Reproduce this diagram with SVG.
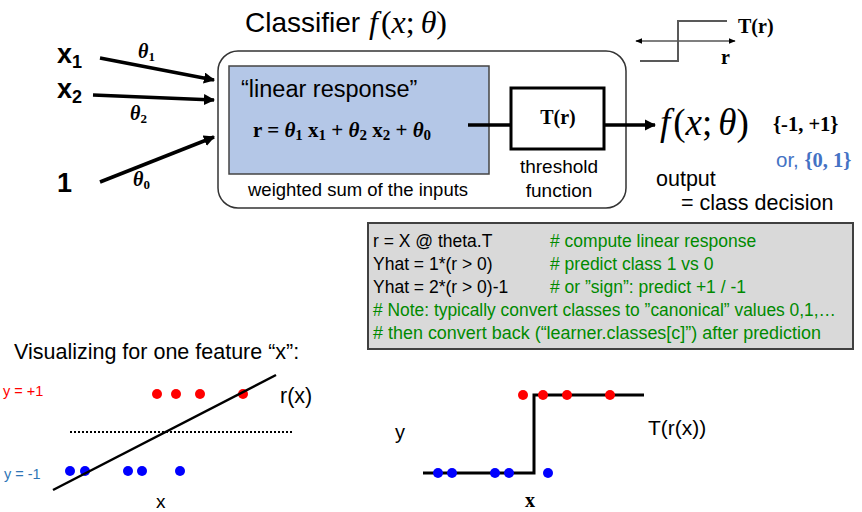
<svg xmlns="http://www.w3.org/2000/svg" width="862" height="512" viewBox="0 0 862 512">
<style>
.sans{font-family:"Liberation Sans",Arial,sans-serif;}
.serif{font-family:"Liberation Serif","Times New Roman",serif;}
.bs{font-family:"Liberation Serif","Times New Roman",serif;font-weight:bold;}
.bi{font-family:"Liberation Serif","Times New Roman",serif;font-weight:bold;font-style:italic;}
.up{font-style:normal;}
.code{font-family:"Liberation Sans",Arial,sans-serif;font-size:17.5px;fill:#000;}
.cm{fill:#008a00;}
.arr{stroke:#000;stroke-width:3.5;fill:none;}
.red{fill:#ff0000;}
.blue{fill:#0000ff;}
</style>
<defs>
<marker id="ah" viewBox="0 0 10 10" refX="9" refY="5" markerWidth="3.2" markerHeight="3.2" orient="auto" markerUnits="strokeWidth">
<path d="M0,0 L10,5 L0,10 z" fill="#000"/>
</marker>
<marker id="ahs" viewBox="0 0 10 10" refX="9" refY="5" markerWidth="6" markerHeight="6" orient="auto-start-reverse" markerUnits="strokeWidth">
<path d="M0,1 L10,5 L0,9 z" fill="#000"/>
</marker>
</defs>
<rect width="862" height="512" fill="#fff"/>

<!-- Title -->
<g id="title">
<text x="245" y="32" class="sans" font-size="28">Classifier</text>
<text x="369" y="33" class="serif" font-size="32"><tspan font-style="italic">f</tspan><tspan dx="3">(</tspan><tspan font-style="italic">x</tspan><tspan>;</tspan><tspan dx="6" font-style="italic">θ</tspan><tspan>)</tspan></text>
</g>

<!-- Inputs -->
<g id="input-x1">
<text x="57" y="63" class="sans" font-weight="bold" font-size="27">x<tspan font-size="18" dy="5">1</tspan></text>
</g>
<g id="input-x2">
<text x="57" y="98" class="sans" font-weight="bold" font-size="27">x<tspan font-size="18" dy="5">2</tspan></text>
</g>
<g id="input-1">
<text x="57" y="192" class="sans" font-weight="bold" font-size="27">1</text>
</g>

<!-- Classifier box -->
<g id="classifier">
<rect x="218" y="51" width="408" height="157" rx="20" ry="20" fill="#fff" stroke="#333" stroke-width="1.5"/>
</g>
<g id="linear-response">
<rect x="229" y="66" width="260" height="108" fill="#b4c7e7" stroke="#444" stroke-width="1.5"/>
<text x="241" y="97" class="sans" font-size="23.5">“linear response”</text>
<text x="253" y="137" class="bs" font-size="21">r = <tspan class="bi">θ</tspan><tspan font-size="15" dy="3">1</tspan><tspan dy="-3"> x</tspan><tspan font-size="15" dy="3">1</tspan><tspan dy="-3"> + </tspan><tspan class="bi">θ</tspan><tspan font-size="15" dy="3">2</tspan><tspan dy="-3"> x</tspan><tspan font-size="15" dy="3">2</tspan><tspan dy="-3"> + </tspan><tspan class="bi">θ</tspan><tspan font-size="15" dy="3">0</tspan></text>
<text x="248" y="196" class="sans" font-size="18.5">weighted sum of the inputs</text>
</g>
<g id="threshold">
<rect x="511" y="88" width="93" height="61" fill="#fff" stroke="#000" stroke-width="3"/>
<text x="558" y="124" class="bs" font-size="20" text-anchor="middle">T(r)</text>
<text x="559" y="173" class="sans" font-size="19" text-anchor="middle">threshold</text>
<text x="559" y="197" class="sans" font-size="19" text-anchor="middle">function</text>
</g>

<!-- Output -->
<g id="output">
<text x="660" y="135" class="serif" font-size="37"><tspan font-style="italic">f</tspan><tspan dx="3">(</tspan><tspan font-style="italic">x</tspan><tspan>;</tspan><tspan dx="6" font-style="italic">θ</tspan><tspan>)</tspan></text>
<text x="773" y="131" class="bs" font-size="20.5">{-1, +1}</text>
<text x="776" y="167" font-size="20.5" fill="#4472c4"><tspan class="sans">or, </tspan><tspan class="bs">{0, 1}</tspan></text>
<text x="656" y="186" class="sans" font-size="21.5">output</text>
<text x="681" y="210" class="sans" font-size="21.5">= class decision</text>
</g>

<!-- Step icon -->
<g id="step-icon">
<line x1="636" y1="41" x2="735" y2="41" stroke="#000" stroke-width="1.2" marker-start="url(#ahs)" marker-end="url(#ahs)"/>
<polyline points="640,61 678,61 678,21 727,21" fill="none" stroke="#595959" stroke-width="2"/>
<text x="738" y="33" class="bs" font-size="20">T(r)</text>
<text x="721" y="64" class="bs" font-size="20">r</text>
</g>

<!-- Connectors -->
<g id="connectors">
<line x1="100" y1="58" x2="214" y2="80" class="arr" marker-end="url(#ah)"/>
<line x1="93" y1="95" x2="214" y2="100" class="arr" marker-end="url(#ah)"/>
<line x1="100" y1="182" x2="214" y2="137" class="arr" marker-end="url(#ah)"/>
<line x1="468" y1="125" x2="511" y2="125" class="arr"/>
<line x1="604" y1="125" x2="655" y2="125" class="arr" marker-end="url(#ah)"/>
</g>
<g id="weights">
<text x="138" y="58" class="bi" font-size="20">θ<tspan class="up" font-size="13" dy="3">1</tspan></text>
<text x="130" y="120" class="bi" font-size="20">θ<tspan class="up" font-size="13" dy="3">2</tspan></text>
<text x="133" y="186" class="bi" font-size="20">θ<tspan class="up" font-size="13" dy="3">0</tspan></text>
</g>

<!-- Code box -->
<g id="code">
<rect x="368" y="223" width="485" height="126" fill="#d9d9d9" stroke="#404040" stroke-width="2"/>
<text x="373" y="247" class="code">r = X @ theta.T</text>
<text x="550" y="247" class="code cm"># compute linear response</text>
<text x="373" y="270" class="code">Yhat = 1*(r &gt; 0)</text>
<text x="550" y="270" class="code cm"># predict class 1 vs 0</text>
<text x="373" y="293" class="code">Yhat = 2*(r &gt; 0)-1</text>
<text x="550" y="293" class="code cm"># or ”sign”: predict +1 / -1</text>
<text x="373" y="316" class="code cm" textLength="463" lengthAdjust="spacingAndGlyphs"># Note: typically convert classes to ”canonical” values 0,1,…</text>
<text x="373" y="339" class="code cm" textLength="448" lengthAdjust="spacingAndGlyphs"># then convert back (“learner.classes[c]”) after prediction</text>
</g>

<!-- Bottom left plot -->
<g id="plot-linear">
<text x="14" y="359" class="sans" font-size="21.5">Visualizing for one feature “x”:</text>
<text x="3" y="396" class="sans" font-size="14.5" fill="#ff0000">y = +1</text>
<text x="4" y="479" class="sans" font-size="14.5" fill="#2e75b6">y = -1</text>
<line x1="70" y1="432" x2="294" y2="432" stroke="#000" stroke-width="2" stroke-dasharray="2,2"/>
<circle cx="157" cy="394" r="5" class="red"/>
<circle cx="176" cy="394" r="5" class="red"/>
<circle cx="200" cy="394" r="5" class="red"/>
<circle cx="243" cy="394" r="5" class="red"/>
<circle cx="70" cy="471" r="5" class="blue"/>
<circle cx="85" cy="471" r="5" class="blue"/>
<circle cx="128" cy="471" r="5" class="blue"/>
<circle cx="142" cy="471" r="5" class="blue"/>
<circle cx="180" cy="471" r="5" class="blue"/>
<line x1="53" y1="490" x2="276" y2="375" stroke="#000" stroke-width="2.5"/>
<text x="280" y="403" class="sans" font-size="21.5">r(x)</text>
<text x="156" y="508" class="sans" font-size="19">x</text>
</g>

<!-- Bottom right plot -->
<g id="plot-threshold">
<polyline points="423,473 534,473 534,395 644,395" fill="none" stroke="#000" stroke-width="3"/>
<circle cx="438" cy="473" r="5" class="blue"/>
<circle cx="452" cy="473" r="5" class="blue"/>
<circle cx="495" cy="473" r="5" class="blue"/>
<circle cx="509" cy="473" r="5" class="blue"/>
<circle cx="548" cy="473" r="5" class="blue"/>
<circle cx="523" cy="395" r="5" class="red"/>
<circle cx="543" cy="395" r="5" class="red"/>
<circle cx="567" cy="395" r="5" class="red"/>
<circle cx="610" cy="395" r="5" class="red"/>
<text x="395" y="439" class="sans" font-size="20">y</text>
<text x="648" y="435" class="sans" font-size="21">T(r(x))</text>
<text x="525" y="507" class="bs" font-size="20">x</text>
</g>
</svg>
